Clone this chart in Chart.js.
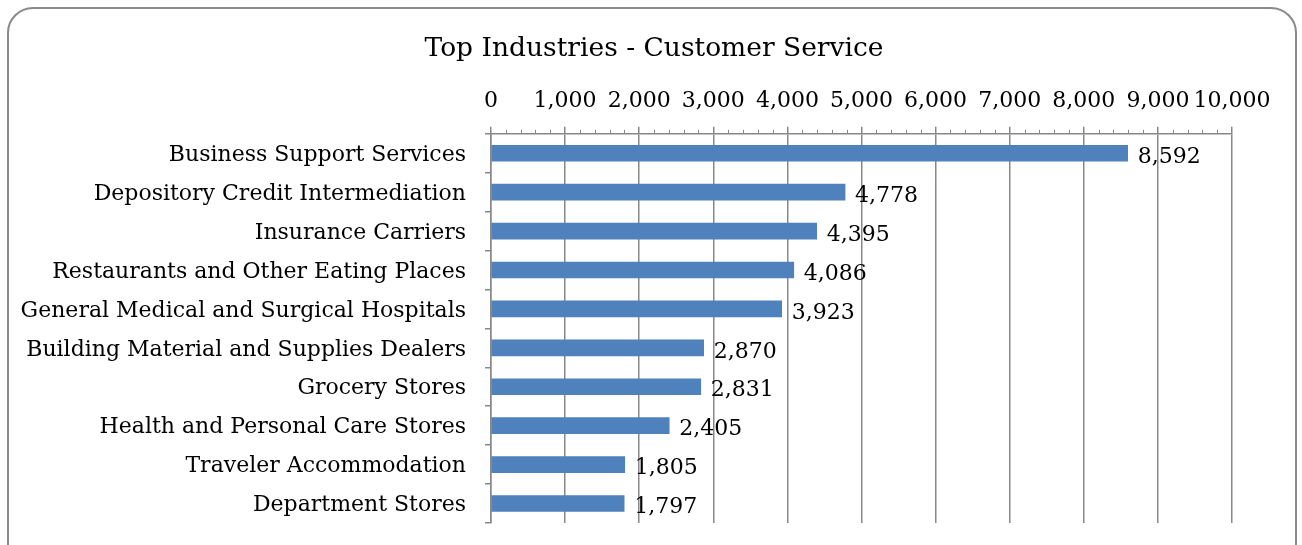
<!DOCTYPE html>
<html lang="en">
<head>
    <meta charset="UTF-8">
    <title>Top Industries - Customer Service</title>
    <style>
        html, body {
            margin: 0;
            padding: 0;
            background: #fff;
            overflow: hidden;
        }
        .frame {
            position: absolute;
            left: 7px;
            top: 7px;
            width: 1286px;
            height: 580px;
            border: 2px solid #8a8a8a;
            border-radius: 26px;
        }
        .wrap {
            position: absolute;
            left: 0;
            top: 0;
            width: 1302px;
            height: 545px;
        }
    </style>
</head>
<body>
    <div class="frame"></div>
    <div class="wrap">
        <canvas id="chart" width="1302" height="545"></canvas>
    </div>

    <script src="https://cdn.jsdelivr.net/npm/chart.js"></script>
    <script>
        const industries = [
            'Business Support Services',
            'Depository Credit Intermediation',
            'Insurance Carriers',
            'Restaurants and Other Eating Places',
            'General Medical and Surgical Hospitals',
            'Building Material and Supplies Dealers',
            'Grocery Stores',
            'Health and Personal Care Stores',
            'Traveler Accommodation',
            'Department Stores'
        ];
        const jobCounts = [8592, 4778, 4395, 4086, 3923, 2870, 2831, 2405, 1805, 1797];
        const axisMin = 0;
        const axisMax = 10000;
        const majorStep = 1000;
        const minorStep = 200;

        const fontFamily = '"DejaVu Serif", "Liberation Serif", serif';
        const gray = '#888888';

        // value labels at the end of each bar
        const valueLabels = {
            id: 'valueLabels',
            afterDatasetsDraw(chart) {
                const ctx = chart.ctx;
                const meta = chart.getDatasetMeta(0);
                ctx.save();
                ctx.font = '22px ' + fontFamily;
                ctx.fillStyle = '#000';
                ctx.textAlign = 'left';
                ctx.textBaseline = 'middle';
                meta.data.forEach((bar, i) => {
                    ctx.fillText(jobCounts[i].toLocaleString('en-US'), bar.x + 10, bar.y + 4);
                });
                ctx.restore();
            }
        };

        // small minor tick marks on the top axis
        const minorTicks = {
            id: 'minorTicks',
            afterDraw(chart) {
                const ctx = chart.ctx;
                const x = chart.scales.x;
                const top = chart.chartArea.top;
                ctx.save();
                ctx.strokeStyle = gray;
                ctx.lineWidth = 1;
                for (let v = axisMin; v <= axisMax; v += minorStep) {
                    if (v % majorStep === 0) continue;
                    const px = Math.round(x.getPixelForValue(v)) + 0.5;
                    ctx.beginPath();
                    ctx.moveTo(px, top - 4);
                    ctx.lineTo(px, top);
                    ctx.stroke();
                }
                ctx.restore();
            }
        };

        // centre the title over the whole frame, not just the padded area
        const centerTitle = {
            id: 'centerTitle',
            afterLayout(chart) {
                const t = chart.titleBlock;
                if (t) {
                    t.left = 14;
                    t.right = 1294;
                    t.width = t.right - t.left;
                }
            }
        };

        new Chart(document.getElementById('chart'), {
            type: 'bar',
            data: {
                labels: industries,
                datasets: [{
                    data: jobCounts,
                    backgroundColor: '#4f81bd',
                    borderWidth: 0,
                    barThickness: 16
                }]
            },
            options: {
                indexAxis: 'y',
                responsive: false,
                animation: false,
                layout: {
                    padding: { top: 0, right: 70, bottom: 22, left: 0 }
                },
                plugins: {
                    legend: { display: false },
                    tooltip: { enabled: false },
                    title: {
                        display: true,
                        text: 'Top Industries - Customer Service',
                        color: '#000',
                        font: { family: fontFamily, size: 26.5, weight: 'normal' },
                        padding: { top: 33, bottom: 0 }
                    }
                },
                scales: {
                    x: {
                        position: 'top',
                        min: axisMin,
                        max: axisMax,
                        afterFit: s => { s.height = 69; },
                        ticks: {
                            stepSize: majorStep,
                            color: '#000',
                            padding: 12,
                            maxRotation: 0,
                            autoSkip: false,
                            font: { family: fontFamily, size: 22 },
                            callback: v => v.toLocaleString('en-US')
                        },
                        grid: {
                            color: gray,
                            lineWidth: 1.5,
                            tickLength: 7
                        },
                        border: { color: gray, width: 1.5 }
                    },
                    y: {
                        afterFit: s => {
                            s.width = 491;
                            s.paddingTop = 0;
                            s.paddingBottom = 0;
                        },
                        ticks: {
                            color: '#000',
                            padding: 19,
                            labelOffset: 2,
                            font: { family: fontFamily, size: 22 }
                        },
                        grid: {
                            offset: true,
                            drawOnChartArea: false,
                            color: gray,
                            lineWidth: 1.5,
                            tickLength: 6
                        },
                        border: { color: gray, width: 1.5 }
                    }
                }
            },
            plugins: [valueLabels, minorTicks, centerTitle]
        });
    </script>
</body>
</html>
